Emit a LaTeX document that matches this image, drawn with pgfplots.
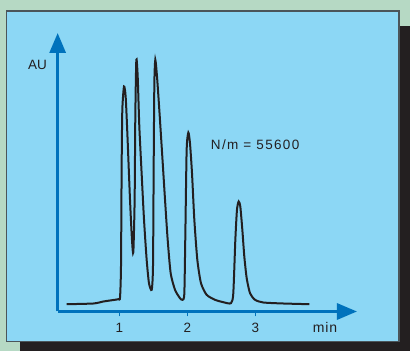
\documentclass[border=0pt]{standalone}
\usepackage{fontspec}
\setmainfont{Liberation Sans}
\usepackage{pgfplots}
\pgfplotsset{compat=1.18}
\usetikzlibrary{arrows.meta}
\definecolor{bggreen}{RGB}{182,217,196}
\definecolor{panelblue}{RGB}{140,215,245}
\definecolor{axisblue}{RGB}{0,114,188}
\definecolor{shadowblack}{RGB}{35,31,32}
\definecolor{bordergray}{RGB}{75,85,90}
\definecolor{textdark}{RGB}{35,31,32}
\begin{document}
\begin{tikzpicture}
\begin{axis}[
  set layers,
  x=68pt, y=1pt,
  xmin=0.093, xmax=4.495, ymin=0, ymax=278.5,
  axis lines=left,
  axis line style={draw=axisblue, line width=3pt, -{Triangle[length=20pt,width=16pt]}},
  xtick={1,2,3}, ytick=\empty,
  /pgf/number format/assume math mode=true,
  xticklabel style={anchor=base, yshift=-16.2pt, inner sep=0pt, text=textdark, font=\fontsize{13.5}{13.5}\selectfont},
  xtick align=outside,
  major tick length=5pt,
  tick style={draw=axisblue, line width=1pt},
  clip=false,
]
\begin{pgfonlayer}{axis background}
\fill[bggreen] (axis cs:-0.7549,-39.5) rectangle (axis cs:5.2746,311.5);
\fill[shadowblack] (axis cs:-0.4607,-39.5) rectangle (axis cs:5.2746,285.5);
\draw[bordergray, line width=1.4pt, fill=panelblue] (axis cs:-0.6637,-29.9) rectangle (axis cs:5.1099,300.5);
\end{pgfonlayer}
\addplot[color=shadowblack, line width=2pt, smooth, tension=0.4] coordinates {
(0.2255,7.3) (0.618,8) (0.765,10) (0.863,11) (0.985,12.3) (1.010,14)
(1.0245,45) (1.034,145) (1.044,201.7) (1.0686,225) (1.093,215) (1.118,178)
(1.157,111.7) (1.186,71.7) (1.206,59.3) (1.225,111.7) (1.235,195) (1.25,251.7)
(1.27,235) (1.294,185) (1.328,138) (1.363,91.7) (1.402,51.7) (1.436,28.3)
(1.476,21.7) (1.495,45) (1.505,145) (1.515,228) (1.529,251.7) (1.554,235)
(1.588,201.7) (1.632,155) (1.672,111.7) (1.711,71.7) (1.755,38.3) (1.819,21.7)
(1.892,13.3) (1.931,11.7) (1.956,18.3) (1.971,78.3) (1.99,161.7) (2.015,179)
(2.039,168.3) (2.069,138) (2.103,91.7) (2.147,51.7) (2.201,28.3) (2.284,16.7)
(2.407,11.7) (2.529,9.3) (2.642,8.3) (2.676,18.3) (2.706,71.7) (2.73,101.7)
(2.755,110) (2.779,105) (2.809,81.7) (2.838,55) (2.873,33.3) (2.922,18.3)
(2.995,11.7) (3.118,9) (3.412,8) (3.794,7.3)
};
\node[anchor=base, text=textdark, font=\fontsize{13.5}{13.5}\selectfont, inner sep=0pt] at (axis cs:-0.2034,242.2) {AU};
\node[anchor=base west, text=textdark, font=\fontsize{13.5}{13.5}\selectfont\addfontfeature{LetterSpace=10}, inner sep=0pt] at (axis cs:2.3437,161.5) {N/m = 55600};
\node[anchor=base, text=textdark, font=\fontsize{14}{14}\selectfont\addfontfeature{LetterSpace=6}, inner sep=0pt] at (axis cs:4.025,0) [yshift=-21.5pt] {min};
\end{axis}
\end{tikzpicture}
\end{document}
